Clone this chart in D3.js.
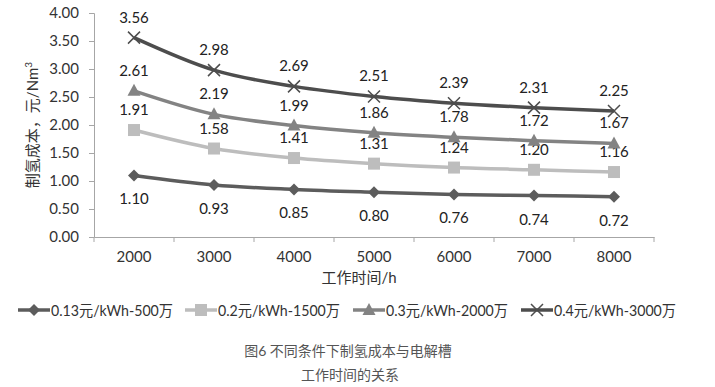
<!DOCTYPE html>
<html>
<head>
<meta charset="utf-8">
<script src="https://cdn.jsdelivr.net/npm/d3@7"></script>
<style>
  body { margin: 0; background: #fff; }
  svg text { font-family: Lato, "Noto Sans CJK SC", sans-serif; }
</style>
</head>
<body>
<script>
var hours = [2000, 3000, 4000, 5000, 6000, 7000, 8000];
var seriesNames = ["0.13元/kWh-500万", "0.2元/kWh-1500万", "0.3元/kWh-2000万", "0.4元/kWh-3000万"];
var cost013 = [1.10, 0.93, 0.85, 0.80, 0.76, 0.74, 0.72];
var cost02 = [1.91, 1.58, 1.41, 1.31, 1.24, 1.20, 1.16];
var cost03 = [2.61, 2.19, 1.99, 1.86, 1.78, 1.72, 1.67];
var cost04 = [3.56, 2.98, 2.69, 2.51, 2.39, 2.31, 2.25];
var yTicks = [0, 0.5, 1, 1.5, 2, 2.5, 3, 3.5, 4];

var series = [
  { name: seriesNames[0], values: cost013, color: "#5c5c5c", marker: "diamond", below: true },
  { name: seriesNames[1], values: cost02, color: "#bdbdbd", marker: "square", below: false },
  { name: seriesNames[2], values: cost03, color: "#838383", marker: "triangle", below: false },
  { name: seriesNames[3], values: cost04, color: "#4d4d4d", marker: "cross", below: false }
];

var width = 715, height = 387;
var margin = { left: 94, right: 61, top: 13, bottom: 150 };

var svg = d3.select("body").append("svg")
  .attr("width", width)
  .attr("height", height);

var x = d3.scaleBand()
  .domain(hours)
  .range([margin.left, width - margin.right]);

var y = d3.scaleLinear()
  .domain([0, 4])
  .range([height - margin.bottom, margin.top]);

// axes
var yAxis = svg.append("g")
  .attr("transform", "translate(" + margin.left + ",0)")
  .call(d3.axisLeft(y).tickValues(yTicks).tickFormat(d3.format(".2f")).tickSize(5).tickPadding(10));
yAxis.select(".domain").attr("stroke", "#a6a6a6");
yAxis.selectAll(".tick line").attr("stroke", "#a6a6a6");
yAxis.selectAll(".tick text").attr("fill", "#333").style("font-size", "15px");

var xAxis = svg.append("g")
  .attr("transform", "translate(0," + y(0) + ")")
  .call(d3.axisBottom(x).tickSize(0).tickPadding(14));
xAxis.select(".domain").attr("stroke", "#a6a6a6");
xAxis.selectAll(".tick text").attr("fill", "#333").style("font-size", "15px");
// boundary ticks between categories
xAxis.selectAll(".bound")
  .data(hours.concat(["end"]))
  .enter().append("line")
  .attr("x1", function(d, i) { return margin.left + i * x.step(); })
  .attr("x2", function(d, i) { return margin.left + i * x.step(); })
  .attr("y1", 0).attr("y2", 5)
  .attr("stroke", "#a6a6a6");

// axis titles
svg.append("text")
  .attr("x", 359)
  .attr("y", 283)
  .attr("text-anchor", "middle")
  .style("font-size", "15px")
  .attr("fill", "#333")
  .text("工作时间/h");

svg.append("text")
  .attr("transform", "translate(38," + ((y(0) + y(4)) / 2) + ") rotate(-90)")
  .attr("text-anchor", "middle")
  .style("font-size", "15px")
  .attr("fill", "#333")
  .html("制氢成本，元/Nm<tspan dy='-6' style='font-size:10px'>3</tspan>");

var line = d3.line()
  .x(function(d, i) { return x(hours[i]) + x.bandwidth() / 2; })
  .y(function(d) { return y(d); })
  .curve(d3.curveMonotoneX);

function drawMarker(g, type, color, cx, cy) {
  if (type === "diamond") {
    g.append("path").attr("d", "M" + cx + "," + (cy - 6) + "L" + (cx + 6) + "," + cy + "L" + cx + "," + (cy + 6) + "L" + (cx - 6) + "," + cy + "Z").attr("fill", color);
  } else if (type === "square") {
    g.append("rect").attr("x", cx - 6).attr("y", cy - 6).attr("width", 12).attr("height", 12).attr("fill", color);
  } else if (type === "triangle") {
    g.append("path").attr("d", "M" + cx + "," + (cy - 7) + "L" + (cx + 6.5) + "," + (cy + 5) + "L" + (cx - 6.5) + "," + (cy + 5) + "Z").attr("fill", color);
  } else {
    g.append("path").attr("d", "M" + (cx - 6) + "," + (cy - 6) + "L" + (cx + 6) + "," + (cy + 6) + "M" + (cx + 6) + "," + (cy - 6) + "L" + (cx - 6) + "," + (cy + 6))
      .attr("stroke", color).attr("stroke-width", 1.5).attr("fill", "none");
  }
}

series.forEach(function(s) {
  var g = svg.append("g");
  g.append("path")
    .datum(s.values)
    .attr("d", line)
    .attr("fill", "none")
    .attr("stroke", s.color)
    .attr("stroke-width", 3.5);
  s.values.forEach(function(v, i) {
    var cx = x(hours[i]) + x.bandwidth() / 2, cy = y(v);
    drawMarker(g, s.marker, s.color, cx, cy);
    g.append("text")
      .attr("x", cx)
      .attr("y", s.below ? cy + 29 : cy - 15)
      .attr("text-anchor", "middle")
      .style("font-size", "15px")
      .attr("fill", "#222")
      .text(d3.format(".2f")(v));
  });
});

// legend
var legendX = [18, 185, 353, 521];
var legendY = 310;
series.forEach(function(s, i) {
  var g = svg.append("g");
  g.append("line")
    .attr("x1", legendX[i]).attr("x2", legendX[i] + 32)
    .attr("y1", legendY).attr("y2", legendY)
    .attr("stroke", s.color).attr("stroke-width", 3.5);
  drawMarker(g, s.marker, s.color, legendX[i] + 16, legendY);
  g.append("text")
    .attr("x", legendX[i] + 33)
    .attr("y", legendY + 6)
    .style("font-size", "15px")
    .attr("textLength", 122)
    .attr("lengthAdjust", "spacingAndGlyphs")
    .attr("fill", "#333")
    .text(s.name);
});

// caption
svg.append("text")
  .attr("x", 348).attr("y", 356)
  .attr("text-anchor", "middle")
  .style("font-size", "14px")
  .attr("fill", "#555")
  .text("图6  不同条件下制氢成本与电解槽");
svg.append("text")
  .attr("x", 350).attr("y", 380)
  .attr("text-anchor", "middle")
  .style("font-size", "14px")
  .attr("fill", "#555")
  .text("工作时间的关系");
</script>
</body>
</html>
